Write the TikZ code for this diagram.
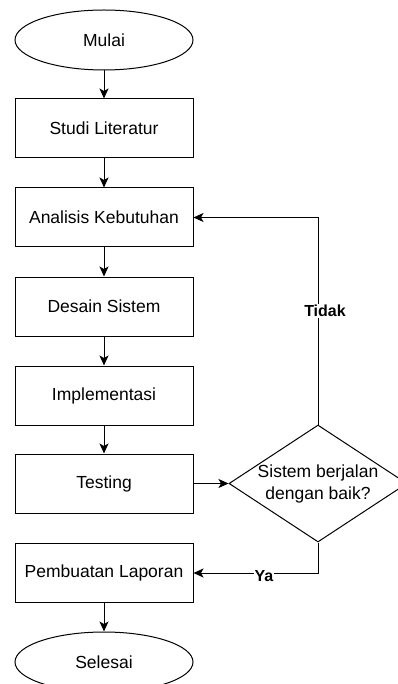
\documentclass[tikz,border=0pt]{standalone}
\usepackage{fontspec}
\setmainfont{Liberation Sans}
\usetikzlibrary{shapes.geometric,arrows.meta}
\begin{document}
\begin{tikzpicture}[x=1pt,y=-1pt,
  font=\fontsize{17.5}{22}\selectfont,
  base/.style={draw,line width=1pt,fill=white,inner sep=0pt},
  proc/.style={base,rectangle,minimum width=178pt,minimum height=59pt},
  term/.style={base,ellipse,minimum width=178pt,minimum height=60pt},
  dec/.style={base,diamond,minimum width=178pt,minimum height=117pt},
  arr/.style={line width=1pt,-{Stealth[length=10pt,width=9pt,inset=2.5pt]}},
  lbl/.style={fill=white,inner sep=1pt,font=\fontsize{16}{18}\selectfont\bfseries}]
\useasboundingbox (0,0) rectangle (398,684);
\fill[white] (0,0) rectangle (398,684);
\clip (0,0) rectangle (398,684);
\node[term] (mulai) at (104,40) {Mulai};
\node[proc] (studi) at (104,128.5) {Studi Literatur};
\node[proc] (analisis) at (104,217.5) {Analisis Kebutuhan};
\node[proc] (desain) at (104,306.5) {Desain Sistem};
\node[proc] (impl) at (104,395.5) {Implementasi};
\node[proc] (testing) at (104,483.5) {Testing};
\node[proc] (laporan) at (104,573) {Pembuatan Laporan};
\node[term] (selesai) at (104,662) {Selesai};
\node[dec] (dec) at (318,483.5) {};
\node[align=center,inner sep=0pt] (dectext) at (318,484) {Sistem berjalan\\dengan baik?};
\draw[arr] (mulai) -- (studi);
\draw[arr] (studi) -- (analisis);
\draw[arr] (analisis) -- (desain);
\draw[arr] (desain) -- (impl);
\draw[arr] (impl) -- (testing);
\draw[arr] (laporan) -- (selesai);
\draw[arr] (testing.east) -- (dec.west);
\draw[arr] (dec.north) |- (analisis.east);
\draw[arr] (dec.south) |- (laporan.east);
\node[lbl] (tidak) at (325,311) {Tidak};
\node[lbl] (ya) at (264,576) {Ya};
\end{tikzpicture}
\end{document}
